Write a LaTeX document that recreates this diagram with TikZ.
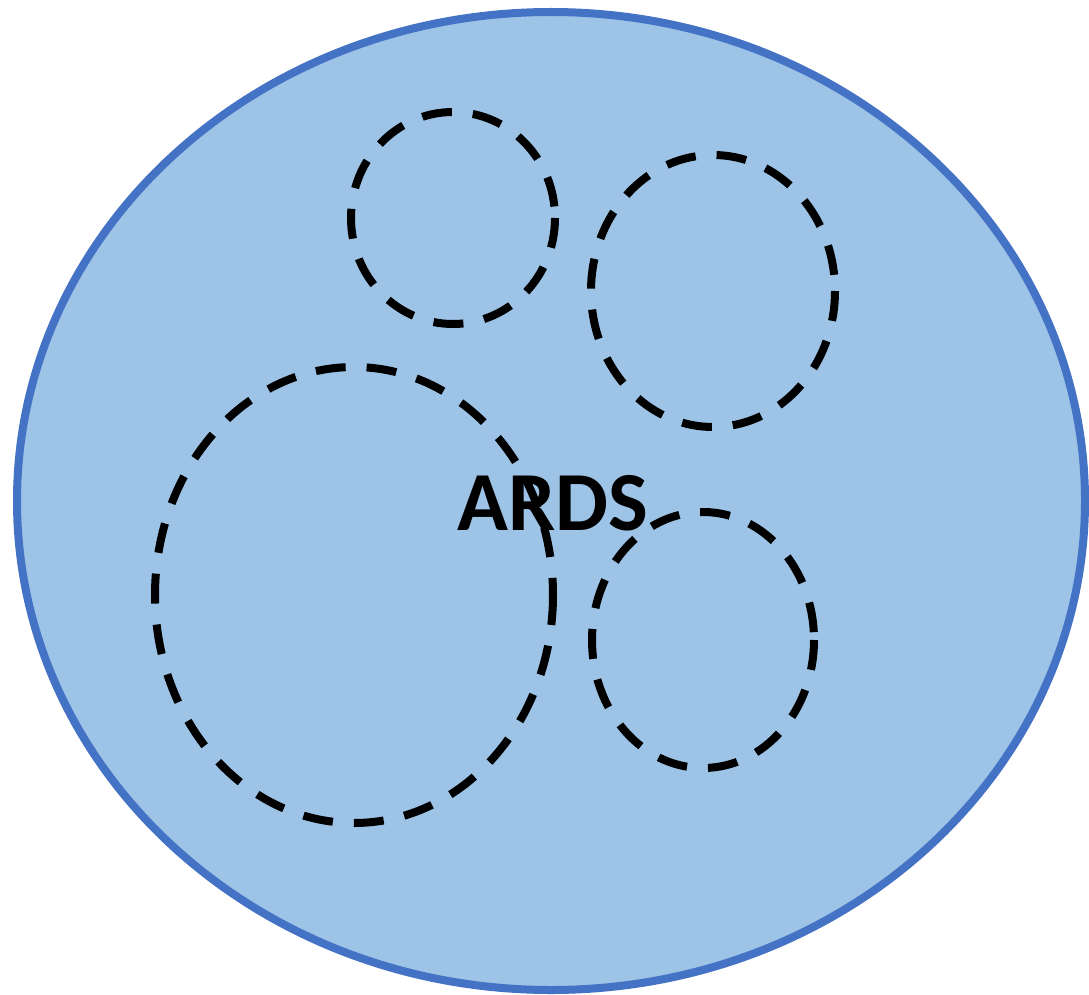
\documentclass[tikz,border=0pt]{standalone}
\usepackage{fontspec}
\setmainfont{Carlito}
\usetikzlibrary{shapes.geometric}
\definecolor{ardsfill}{HTML}{9DC3E6}
\definecolor{ardsline}{HTML}{4472C4}
\tikzset{
  group/.style={line width=8pt, black, dash pattern=on 30pt off 21pt},
}

\begin{document}
\begin{tikzpicture}[x=1pt,y=-1pt]
\useasboundingbox (0,0) rectangle (1089,995);
\draw[line width=8pt, ardsline, fill=ardsfill] (551,501) ellipse [x radius=534, y radius=489];
\draw[group] (453,218) ellipse [x radius=102, y radius=106];
\draw[group] (713,291) ellipse [x radius=122, y radius=136];
\draw[group] (354,595) ellipse [x radius=199, y radius=228];
\draw[group] (703,640) ellipse [x radius=111, y radius=128];
\node[font=\fontsize{84}{100}\selectfont\bfseries] (ards) at (553,503) {ARDS};
\end{tikzpicture}
\end{document}
